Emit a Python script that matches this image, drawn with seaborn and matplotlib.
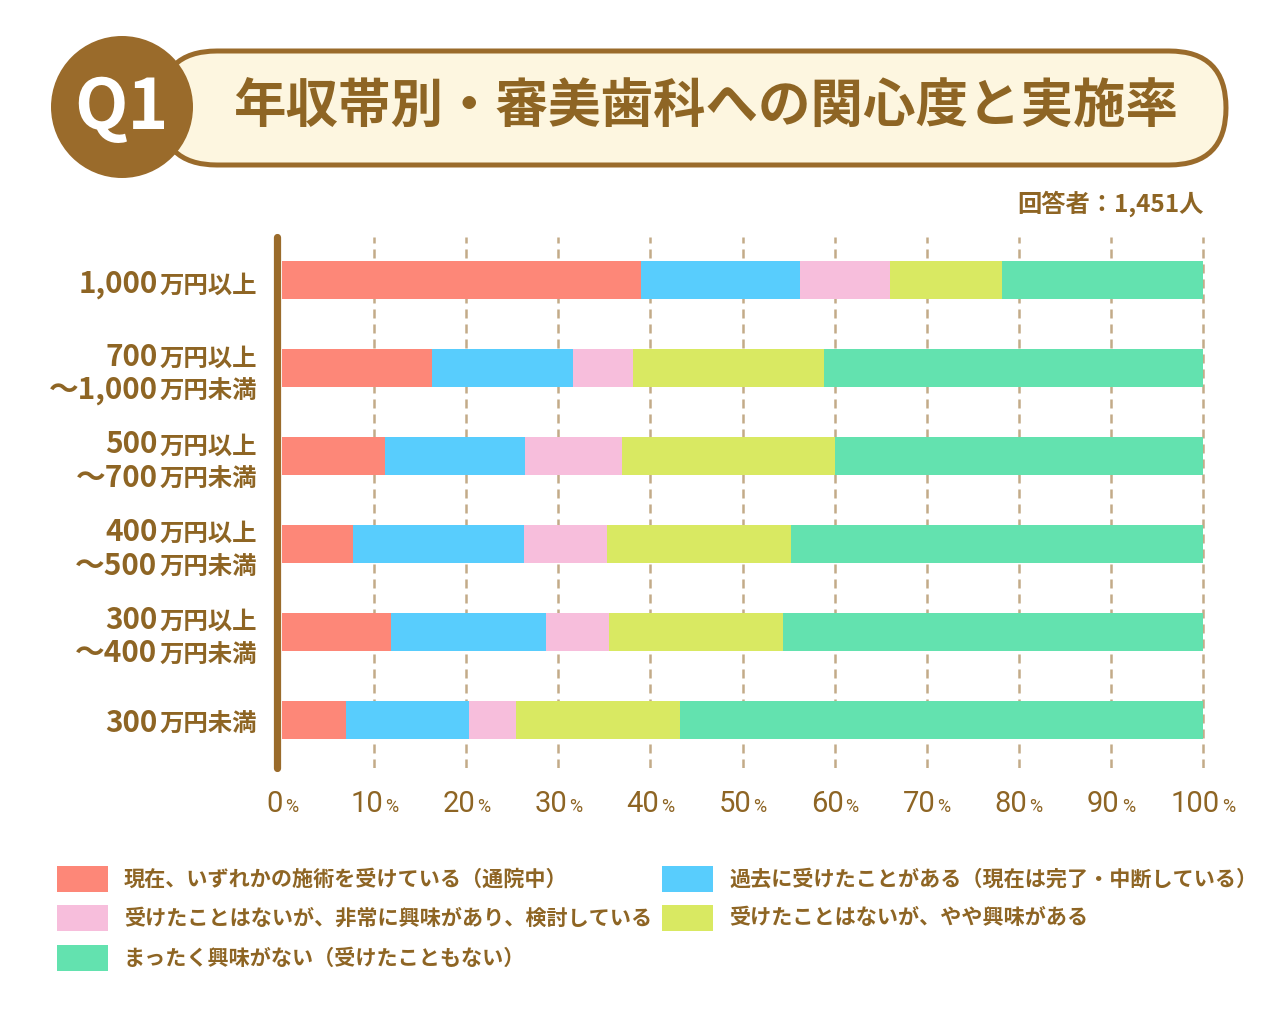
import matplotlib
matplotlib.use("Agg")
import matplotlib.pyplot as plt
import seaborn as sns
import pandas as pd
from matplotlib.patches import FancyBboxPatch, Circle, Rectangle

# ---------------- data ----------------
categories = ["1,000万円以上", "700万円以上～1,000万円未満", "500万円以上～700万円未満",
              "400万円以上～500万円未満", "300万円以上～400万円未満", "300万円未満"]
label_lines = [
    [("1,000", "万円以上")],
    [("700", "万円以上"), ("～1,000", "万円未満")],
    [("500", "万円以上"), ("～700", "万円未満")],
    [("400", "万円以上"), ("～500", "万円未満")],
    [("300", "万円以上"), ("～400", "万円未満")],
    [("300", "万円未満")],
]
series_names = [
    "現在、いずれかの施術を受けている（通院中）",
    "過去に受けたことがある（現在は完了・中断している）",
    "受けたことはないが、非常に興味があり、検討している",
    "受けたことはないが、やや興味がある",
    "まったく興味がない（受けたこともない）",
]
current = [39.0, 16.3, 11.2, 7.7, 11.8, 6.9]
past = [17.2, 15.3, 15.2, 18.6, 16.9, 13.4]
considering = [9.8, 6.5, 10.5, 9.0, 6.8, 5.1]
somewhat = [12.2, 20.8, 23.1, 20.0, 18.9, 17.8]
no_interest = [21.8, 41.1, 40.0, 44.7, 45.6, 56.8]
colors = ["#fd8778", "#58cdfd", "#f7bedc", "#d9e962", "#63e2af"]
xticks = [0, 10, 20, 30, 40, 50, 60, 70, 80, 90, 100]
title = "年収帯別・審美歯科への関心度と実施率"
qlabel = "Q1"
respondents = "回答者：1,451人"

BROWN = "#8e6524"
CIRCLE = "#9a6b2b"
CREAM = "#fdf6e0"
GRID = "#c3ab88"

# ---------------- style ----------------
sns.set_style("white")
plt.rcParams["font.family"] = ["Noto Sans CJK JP", "DejaVu Sans"]
plt.rcParams["lines.scale_dashes"] = False

fig = plt.figure(figsize=(12.8, 10.1), dpi=100)
fig.patch.set_facecolor("white")

# background / decoration axes in pixel units
bg = fig.add_axes([0, 0, 1, 1])
bg.set_xlim(0, 1280)
bg.set_ylim(1010, 0)
bg.axis("off")

bg.add_patch(FancyBboxPatch((160, 51), 1066, 114,
                            boxstyle="round,pad=0,rounding_size=57",
                            fc=CREAM, ec=CIRCLE, lw=3.6))
bg.add_patch(Circle((122, 107), 71, fc=CIRCLE, ec="none"))
bg.text(121, 109, qlabel, color="white", fontsize=50, fontweight="bold",
        ha="center", va="center")
bg.text(233, 107, title, color=BROWN, fontsize=37.8, fontweight="bold",
        ha="left", va="center")
bg.text(1204, 204, respondents, color=BROWN, fontsize=17.5, fontweight="bold",
        ha="right", va="center")

# legend (manual two-column layout)
leg_pos = [(57, 879), (662, 879), (57, 918), (662, 918), (57, 958)]
for (lx, ly), name, c in zip(leg_pos, series_names, colors):
    bg.add_patch(Rectangle((lx, ly - 13), 51, 26, fc=c, ec="none"))
    bg.text(lx + 67, ly, name, color=BROWN, fontsize=15.2, fontweight="bold",
            ha="left", va="center")

# ---------------- chart ----------------
px_per_unit = 9.21
x0_px = 282
xl = -1.0
xr = 100.5
left_px = x0_px + xl * px_per_unit
right_px = x0_px + xr * px_per_unit
top_px, bot_px = 237, 768
ax = fig.add_axes([left_px / 1280, 1 - bot_px / 1010,
                   (right_px - left_px) / 1280, (bot_px - top_px) / 1010])
ax.patch.set_alpha(0)

df = pd.DataFrame({"category": categories})
series = [current, past, considering, somewhat, no_interest]
running = [0.0] * len(categories)
cum_cols = []
for k, s in enumerate(series):
    running = [a + b for a, b in zip(running, s)]
    df[f"cum{k}"] = running
    cum_cols.append(f"cum{k}")

for k in reversed(range(len(series))):
    sns.barplot(data=df, x=cum_cols[k], y="category", orient="h",
                color=colors[k], saturation=1, width=0.433, linewidth=0,
                ax=ax, zorder=3)

for v in xticks[1:]:
    ax.axvline(v, color=GRID, lw=1.8, ls=(0, (6.5, 4.3)), zorder=1)
ax.axvline(-0.5, color=CIRCLE, lw=5.2, zorder=4, clip_on=False)

ax.set_xlim(xl, xr)
ax.set_ylim(5.552, -0.495)
ax.set_xticks(xticks)
ax.set_yticks(range(len(categories)))
ax.tick_params(axis="both", length=0, labelbottom=False, labelleft=False)
ax.set_xlabel("")
ax.set_ylabel("")
for sp in ax.spines.values():
    sp.set_visible(False)

# y labels: large number + smaller unit, right aligned
label_x = (257 - x0_px) / px_per_unit
for i, lines in enumerate(label_lines):
    ys = [i + 0.14] if len(lines) == 1 else [i - 0.03, i + 0.35]
    for (num, unit), yb in zip(lines, ys):
        ut = ax.text(label_x, yb, unit, color=BROWN, fontsize=17.6,
                     fontweight="bold", ha="right", va="baseline")
        ax.annotate(num, xy=(0, yb), xycoords=(ut, "data"), xytext=(-2, 0),
                    textcoords="offset pixels", color=BROWN, fontsize=21.4,
                    fontweight="bold", ha="right", va="baseline",
                    annotation_clip=False)

# x tick labels: number + small %
pairs = []
for v in xticks:
    n = ax.annotate(str(v), xy=(v, 0), xycoords=("data", "axes fraction"),
                    xytext=(0, -44), textcoords="offset pixels", color=BROWN,
                    fontsize=21, ha="left", va="baseline",
                    family=["Roboto", "DejaVu Sans"], annotation_clip=False)
    p = ax.annotate("%", xy=(v, 0), xycoords=("data", "axes fraction"),
                    xytext=(0, -44), textcoords="offset pixels", color=BROWN,
                    fontsize=13, ha="left", va="baseline",
                    family=["Roboto", "DejaVu Sans"], annotation_clip=False)
    pairs.append((n, p))

fig.canvas.draw()
r = fig.canvas.get_renderer()
gap = 2
for n, p in pairs:
    wn = n.get_window_extent(r).width
    wp = p.get_window_extent(r).width
    tot = wn + gap + wp
    n.xyann = (-tot / 2, -44)
    p.xyann = (-tot / 2 + wn + gap, -44)

fig.savefig("out.png", dpi=100, facecolor="white")
